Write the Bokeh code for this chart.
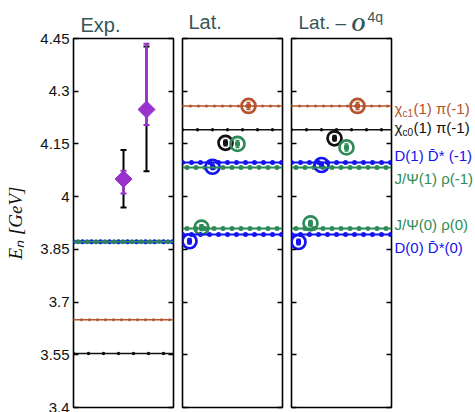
import numpy as np
from bokeh.plotting import figure
from bokeh.models import Range1d, LinearAxis, FixedTicker, Span, Title
from bokeh.layouts import row, column
from bokeh.core.properties import value
from bokeh.embed import file_html
from bokeh.resources import INLINE

# ---------------- data ----------------
y_ticks = [3.4, 3.55, 3.7, 3.85, 4.0, 4.15, 4.3, 4.45]
y_tick_labels = ["3.4", "3.55", "3.7", "3.85", "4", "4.15", "4.3", "4.45"]

# experimental thresholds
exp_thr_E = [3.554, 3.650, 3.872, 3.872]
exp_thr_ch = ["chi_c0", "chi_c1", "DD", "Jpsi"]

# experimental states (diamonds)
exp_x = [0.5, 0.73]
exp_E = [4.050, 4.248]
exp_stat_lo = [4.009, 4.204]
exp_stat_hi = [4.074, 4.435]
exp_tot_lo = [3.969, 4.072]
exp_tot_hi = [4.133, 4.427]

# non-interacting lattice levels
lat_thr_E = [3.892, 3.909, 4.097, 4.083, 4.190, 4.258]
lat_thr_ch = ["DD", "Jpsi", "DD", "Jpsi", "chi_c0", "chi_c1"]

# lattice eigen-energies (circles), in order of state index
state_pos = [0.07, 0.19, 0.30, 0.43, 0.55, 0.66]
state_ch = ["DD", "Jpsi", "DD", "chi_c0", "Jpsi", "chi_c1"]
lat_E = [3.873, 3.912, 4.085, 4.153, 4.150, 4.258]
lat_err = [0.008, 0.008, 0.008, 0.008, 0.010, 0.010]
o4q_E = [3.871, 3.924, 4.090, 4.166, 4.140, 4.258]
o4q_err = [0.008, 0.008, 0.008, 0.008, 0.010, 0.010]

# right labels
lab_ch = ["chi_c1", "chi_c0", "DD", "Jpsi", "Jpsi", "DD"]
lab_main = ["\u03c7", "\u03c7", "D(1) D\u0304* (-1)", "J/\u03a8(1) \u03c1(-1)",
            "J/\u03a8(0) \u03c1(0)", "D(0) D\u0304*(0)"]
lab_sub = ["c1", "c0", "", "", "", ""]
lab_tail = ["(1) \u03c0(-1)", "(1) \u03c0(-1)", "", "", "", ""]

# panel titles
titles = ["Exp.", "Lat.", "Lat. \u2013"]

# ---------------- style ----------------
COL = {"chi_c0": "#111111", "chi_c1": "#b4552d", "DD": "#1414f0", "Jpsi": "#2e8b57"}
DOT = {"chi_c0": (0.15, 0.0, 3.5), "chi_c1": (0.08, 0.0, 3.0),
       "DD": (0.09, 0.0, 5.0), "Jpsi": (0.09, 0.045, 5.0)}
LW = {"chi_c0": 1.5, "chi_c1": 1.5, "DD": 2.0, "Jpsi": 2.0}
PURPLE = "#9932cc"
TITLE_COL = "#355656"
SANS = "Liberation Sans"
lab_y = [4.251, 4.196, 4.117, 4.051, 3.920, 3.855]   # label placement
HDR_H = 33
X0 = 177  # left edge of the header (right of the Exp. figure)


def make_fig(left, right, labels, top):
    p = figure(frame_width=100, frame_height=369, x_range=Range1d(0, 1),
               y_range=Range1d(3.4, 4.45), output_backend="svg", toolbar_location=None,
               min_border_left=left, min_border_right=right, min_border_top=top,
               min_border_bottom=5, x_axis_location=None, y_axis_location=None)
    p.grid.visible = False
    p.outline_line_color = "black"
    p.outline_line_width = 1.6
    p.background_fill_color = "white"
    p.border_fill_color = "white"
    for loc in ("left", "right"):
        ax = LinearAxis(ticker=FixedTicker(ticks=y_ticks), major_tick_in=5, major_tick_out=0,
                        minor_tick_in=0, minor_tick_out=0, axis_line_color=None,
                        major_tick_line_color="black", major_tick_line_width=1.3)
        if loc == "left" and labels:
            ax.major_label_overrides = {t: l for t, l in zip(y_ticks, y_tick_labels)}
            ax.major_label_text_font = SANS
            ax.major_label_text_font_size = "15px"
            ax.major_label_text_color = "#111111"
            ax.major_label_standoff = 4
            ax.axis_label = "E\u2099 [GeV]"
            ax.axis_label_text_font = "Liberation Serif"
            ax.axis_label_text_font_style = "italic"
            ax.axis_label_text_font_size = "19px"
            ax.axis_label_text_color = "#111111"
            ax.axis_label_standoff = 11
        else:
            ax.major_label_overrides = {t: "" for t in y_ticks}
            ax.major_label_standoff = 0
            ax.axis_label_standoff = 0
        p.add_layout(ax, loc)
    return p


def level_line(p, E, ch):
    c = COL[ch]
    p.add_layout(Span(location=E, dimension="width", line_color=c, line_width=LW[ch]))
    sp, off, sz = DOT[ch]
    xs = np.arange(off, 1.0 + 1e-9, sp)
    p.scatter(xs, [E] * len(xs), marker="circle", size=sz, color=c, line_width=0)


def states(p, E, err):
    cols = [COL[c] for c in state_ch]
    lo = [e - d for e, d in zip(E, err)]
    hi = [e + d for e, d in zip(E, err)]
    p.segment(x0=state_pos, x1=state_pos, y0=lo, y1=hi, line_color=cols, line_width=1.5)
    p.scatter(state_pos, lo, marker="dash", size=4, line_color=cols, line_width=1.5)
    p.scatter(state_pos, hi, marker="dash", size=4, line_color=cols, line_width=1.5)
    p.scatter(state_pos, E, marker="square", size=4, color=cols)
    p.scatter(state_pos, E, marker="circle", size=14, fill_color=None,
              line_color=cols, line_width=2.7)


# ---------------- Exp panel (with its own title) ----------------
p1 = make_fig(73, 4, True, 38)
p1.add_layout(Title(text=titles[0], align="left", offset=7, standoff=5, text_font=SANS,
                    text_font_size="20px", text_font_style="normal",
                    text_color=TITLE_COL), "above")
for E, ch in zip(exp_thr_E, exp_thr_ch):
    level_line(p1, E, ch)
p1.segment(x0=exp_x, x1=exp_x, y0=exp_tot_lo, y1=exp_tot_hi, line_color="black", line_width=2)
p1.scatter(exp_x, exp_tot_lo, marker="dash", size=6, line_color="black", line_width=2)
p1.scatter(exp_x, exp_tot_hi, marker="dash", size=6, line_color="black", line_width=2)
p1.segment(x0=exp_x, x1=exp_x, y0=exp_stat_lo, y1=exp_stat_hi, line_color=PURPLE, line_width=2.5)
p1.scatter(exp_x, exp_stat_lo, marker="dash", size=6, line_color=PURPLE, line_width=2)
p1.scatter(exp_x, exp_stat_hi, marker="dash", size=6, line_color=PURPLE, line_width=2)
p1.scatter(exp_x, exp_E, marker="square", angle=np.pi / 4, size=12, color=PURPLE)

# ---------------- header for the lattice panels (pixel coordinates) ----------------
hdr = figure(frame_width=475 - X0, frame_height=HDR_H, x_range=Range1d(X0, 475),
             y_range=Range1d(0, HDR_H), output_backend="svg", toolbar_location=None,
             min_border=0, x_axis_location=None, y_axis_location=None)
hdr.grid.visible = False
hdr.outline_line_color = None
hdr.text(x=[188], y=[HDR_H - 21.5], text=titles[1:2],
         text_font=value(SANS), text_font_size="20px", text_color=TITLE_COL,
         text_baseline="middle")
hdr.text(x=[298], y=[HDR_H - 22], text=titles[2:],
         text_font=value(SANS), text_font_size="19px", text_color=TITLE_COL,
         text_baseline="middle")
hdr.text(x=[351], y=[HDR_H - 23.5], text=["O"], text_font=value("Liberation Serif"),
         text_font_style="bold italic", text_font_size="19px", text_color=TITLE_COL,
         text_baseline="middle")
hdr.text(x=[367], y=[HDR_H - 16], text=["4q"], text_font=value(SANS), text_font_size="14px",
         text_color=TITLE_COL, text_baseline="middle")

# ---------------- Lat panel ----------------
p2 = make_fig(5, 4, False, 38 - HDR_H)
for E, ch in zip(lat_thr_E, lat_thr_ch):
    level_line(p2, E, ch)
states(p2, lat_E, lat_err)

# ---------------- Lat - O4q panel ----------------
p3 = make_fig(5, 2, False, 38 - HDR_H)
for E, ch in zip(lat_thr_E, lat_thr_ch):
    level_line(p3, E, ch)
states(p3, o4q_E, o4q_err)

# ---------------- right-hand labels ----------------
p4 = figure(frame_width=82, frame_height=369, x_range=Range1d(0, 82), y_range=Range1d(3.4, 4.45),
            output_backend="svg", toolbar_location=None, min_border_left=0, min_border_right=0,
            min_border_top=38 - HDR_H, min_border_bottom=5, x_axis_location=None,
            y_axis_location=None)
p4.grid.visible = False
p4.outline_line_color = None
for y, ch, m, s, t in zip(lab_y, lab_ch, lab_main, lab_sub, lab_tail):
    c = COL[ch]
    p4.text(x=[1], y=[y], text=[m], text_font=value(SANS), text_font_size="15px",
            text_color=c, text_baseline="middle")
    if s:
        p4.text(x=[9], y=[y], y_offset=5, text=[s], text_font=value(SANS),
                text_font_size="10px", text_color=c, text_baseline="middle")
        p4.text(x=[20], y=[y], text=[t], text_font=value(SANS), text_font_size="15px",
                text_color=c, text_baseline="middle")

layout = row(p1, column(hdr, row(p2, p3, p4)))
open("out.html", "w").write(file_html(layout, INLINE))
